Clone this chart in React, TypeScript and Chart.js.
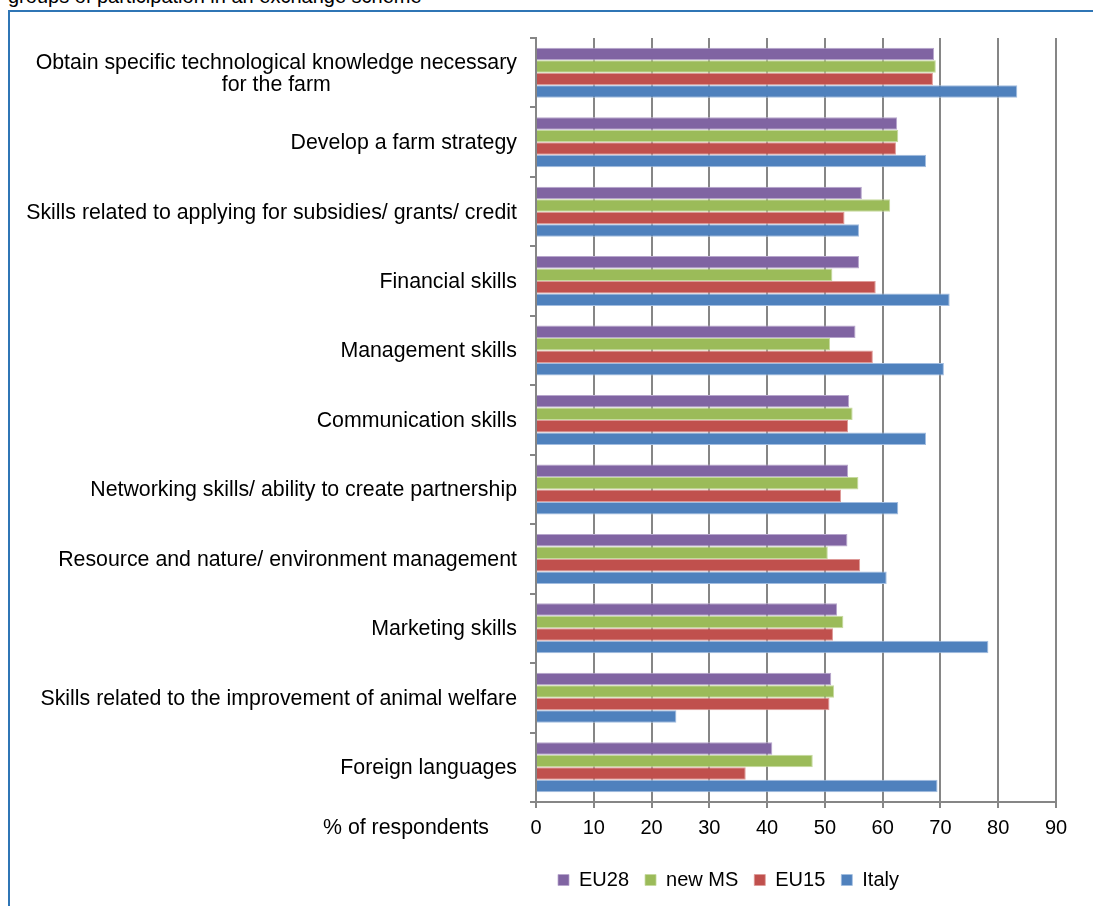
import React, { useEffect, useRef } from 'react';
import { Chart, registerables } from 'chart.js';

Chart.register(...registerables);

const FONT = "'Liberation Sans', Arial, sans-serif";

const headerText = 'groups of participation in an exchange scheme';
const axisTitle = '% of respondents';

const categories: string[][] = [
  ['Obtain specific technological knowledge necessary', 'for the farm'],
  ['Develop a farm strategy'],
  ['Skills related to applying for subsidies/ grants/ credit'],
  ['Financial skills'],
  ['Management skills'],
  ['Communication skills'],
  ['Networking skills/ ability to create partnership'],
  ['Resource and nature/ environment management'],
  ['Marketing skills'],
  ['Skills related to the improvement of animal welfare'],
  ['Foreign languages'],
];

const seriesNames = ['EU28', 'new MS', 'EU15', 'Italy'];
const seriesColors = ['#8064A2', '#9BBB59', '#C0504D', '#4F81BD'];
const seriesEdges = ['#B7A6CC', '#C6DA9E', '#DE9A98', '#A2BDE0'];

const eu28 = [68.9, 62.5, 56.4, 55.9, 55.3, 54.2, 54.0, 53.9, 52.1, 51.1, 40.9];
const newMS = [69.2, 62.7, 61.3, 51.3, 50.9, 54.8, 55.8, 50.5, 53.2, 51.6, 47.9];
const eu15 = [68.7, 62.3, 53.4, 58.8, 58.3, 54.0, 52.8, 56.1, 51.4, 50.8, 36.3];
const italy = [83.3, 67.5, 55.9, 71.6, 70.6, 67.5, 62.7, 60.7, 78.3, 24.3, 69.5];

const xMin = 0;
const xMax = 90;
const xStep = 10;

const CANVAS_W = 1457;
const CANVAS_H = 906;

const labelPlugin = {
  id: 'customLabels',
  afterDraw(chart: any) {
    const ctx = chart.ctx;
    const yScale = chart.scales.y;
    const xScale = chart.scales.x;
    ctx.save();
    ctx.font = `21.33px ${FONT}`;
    ctx.fillStyle = '#000';
    ctx.textBaseline = 'middle';
    const rightEdge = yScale.right - 19;
    const lineH = 22;
    categories.forEach((lines, i) => {
      const yc = yScale.getPixelForValue(i) + 1;
      const widths = lines.map((l) => ctx.measureText(l).width);
      const maxW = Math.max(...widths);
      const cx = rightEdge - maxW / 2;
      ctx.textAlign = 'center';
      const startY = yc - ((lines.length - 1) * lineH) / 2;
      lines.forEach((l, j) => {
        ctx.fillText(l, cx, startY + j * lineH);
      });
    });
    ctx.textAlign = 'right';
    ctx.fillText(axisTitle, yScale.right - 47, xScale.top + 26);
    ctx.restore();
  },
};

export default function App() {
  const ref = useRef<HTMLCanvasElement | null>(null);

  useEffect(() => {
    if (!ref.current) return;
    const datasets = [eu28, newMS, eu15, italy].map((d, i) => ({
      label: seriesNames[i],
      data: d,
      backgroundColor: seriesColors[i],
      borderColor: seriesEdges[i],
      borderWidth: { top: 1, bottom: 1, right: 1, left: 0 },
      borderSkipped: 'left',
      yAxisID: 'y',
      xAxisID: 'x',
    }));
    const chart = new Chart(ref.current, {
      type: 'bar',
      data: { labels: categories.map((c) => c.join(' ')), datasets },
      plugins: [labelPlugin],
      options: {
        indexAxis: 'y',
        animation: false,
        responsive: false,
        maintainAspectRatio: false,
        layout: { padding: { left: 0, right: 0, top: 38, bottom: 6 } },
        datasets: { bar: { categoryPercentage: 0.72, barPercentage: 1.0 } },
        scales: {
          x: {
            type: 'linear',
            position: 'bottom',
            min: xMin,
            max: xMax,
            ticks: { stepSize: xStep, color: '#000', font: { size: 20, family: FONT }, padding: 8, maxRotation: 0 },
            grid: { color: '#868686', lineWidth: 2, tickLength: 6 },
            border: { color: '#868686', width: 2 },
            afterFit: (s: any) => {
              s.height = 52;
            },
          },
          y: {
            type: 'category',
            position: 'left',
            ticks: { display: false },
            grid: { drawOnChartArea: false, color: '#868686', lineWidth: 2, tickLength: 6, offset: true },
            border: { color: '#868686', width: 2 },
            afterFit: (s: any) => {
              s.width = 536;
            },
          },
          y2: {
            type: 'linear',
            axis: 'y',
            position: 'right',
            display: true,
            ticks: { display: false },
            grid: { display: false, drawTicks: false },
            border: { display: false },
            afterFit: (s: any) => {
              s.width = 401;
            },
          },
        },
        plugins: {
          legend: {
            position: 'bottom',
            labels: {
              boxWidth: 11,
              boxHeight: 11,
              padding: 16,
              color: '#000',
              font: { size: 20, family: FONT },
            },
          },
          tooltip: { enabled: false },
        },
      } as any,
    });
    return () => chart.destroy();
  }, []);

  return (
    <div
      style={{
        position: 'absolute',
        left: 0,
        top: 0,
        width: 1093,
        height: 906,
        overflow: 'hidden',
        background: '#fff',
      }}
    >
      <div
        style={{
          position: 'absolute',
          left: 8,
          top: -14,
          fontFamily: FONT,
          fontSize: 20,
          lineHeight: '20px',
          whiteSpace: 'nowrap',
          color: '#000',
        }}
      >
        {headerText}
      </div>
      <div
        style={{
          position: 'absolute',
          left: 8,
          top: 10,
          width: 2000,
          height: 2000,
          borderLeft: '2px solid #2F75B5',
          borderTop: '2px solid #2F75B5',
        }}
      />
      <canvas
        ref={ref}
        width={CANVAS_W}
        height={CANVAS_H}
        style={{ position: 'absolute', left: 0, top: 0, width: CANVAS_W, height: CANVAS_H }}
      />
    </div>
  );
}
